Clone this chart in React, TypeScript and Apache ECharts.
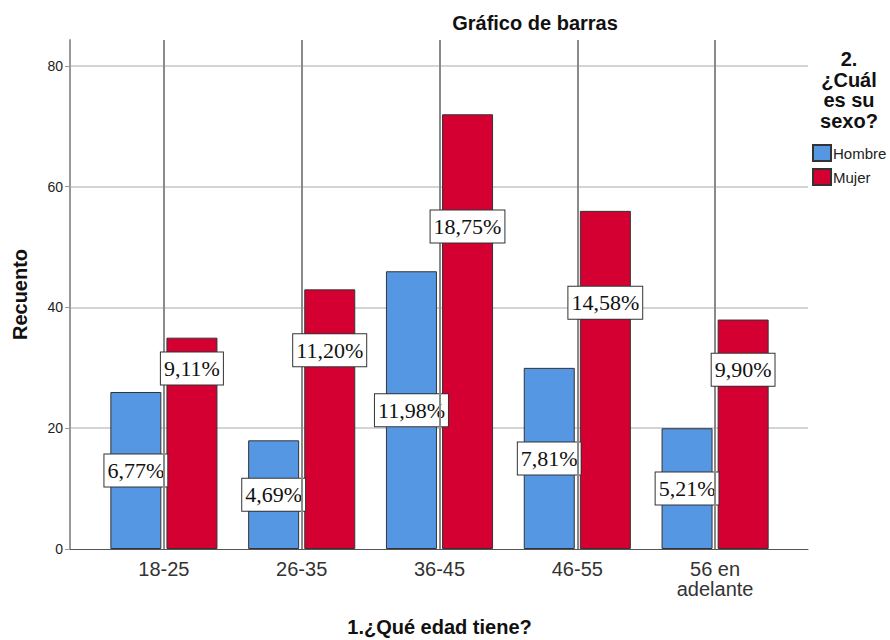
import React, { useEffect, useRef } from "react";
import * as echarts from "echarts";

const categories = ["18-25", "26-35", "36-45", "46-55", "56 en\nadelante"];
const hombre = [26, 18, 46, 30, 20];
const mujer = [35, 43, 72, 56, 38];
// where the Mujer percentage boxes sit (value units)
const mujerLabelAt = [29.9, 32.9, 53.4, 40.8, 29.7];
const yTicks = [0, 20, 40, 60, 80];

const total = [...hombre, ...mujer].reduce((a, b) => a + b, 0);
const pct = (v: number) => ((v / total) * 100).toFixed(2).replace(".", ",") + "%";

const labelBox = {
  fontFamily: "Liberation Serif, Times New Roman, serif",
  fontSize: 22,
  lineHeight: 25,
  color: "#111",
  backgroundColor: "#fff",
  borderColor: "#333",
  borderWidth: 1,
  padding: [4, 3, 3, 3],
};

export default function App() {
  const ref = useRef<HTMLDivElement>(null);
  useEffect(() => {
    if (!ref.current) return;
    const chart = echarts.init(ref.current, null, { renderer: "svg" });
    const sans = "Liberation Sans, Arial, sans-serif";
    chart.setOption({
      animation: false,
      backgroundColor: "#fff",
      textStyle: { fontFamily: sans },
      title: {
        text: "Gráfico de barras",
        left: 535,
        top: 13,
        textAlign: "center",
        padding: 0,
        textStyle: { fontSize: 20, fontWeight: "bold", color: "#111", fontFamily: sans },
      },
      graphic: [
        {
          type: "text",
          x: 849,
          y: 49,
          style: {
            text: "2.\n¿Cuál\nes su\nsexo?",
            font: "bold 20px Liberation Sans, Arial, sans-serif",
            lineHeight: 20.5,
            align: "center",
            verticalAlign: "top",
            fill: "#111",
          },
        },
      ],
      legend: {
        data: ["Hombre", "Mujer"],
        orient: "vertical",
        left: 812,
        top: 144,
        padding: 0,
        itemWidth: 18,
        itemHeight: 16,
        itemGap: 6,
        icon: "rect",
        textStyle: { fontSize: 15, color: "#222", fontFamily: sans, padding: [0, 0, 0, -3] },
      },
      grid: [
        { left: 70, right: 82, top: 40, bottom: 91, outerBoundsMode: "none", containLabel: false },
        { left: 95, right: 106, top: 40, bottom: 91, outerBoundsMode: "none", containLabel: false },
      ],
      xAxis: [
        {
          type: "value",
          gridIndex: 0,
          min: 0,
          max: 1,
          axisLine: { show: true, onZero: false, lineStyle: { color: "#555", width: 1 } },
          axisTick: { show: false },
          axisLabel: { show: false },
          splitLine: { show: false },
        },
        {
          type: "category",
          gridIndex: 1,
          data: categories,
          axisLine: { show: false },
          axisTick: { show: false },
          axisLabel: { fontSize: 20, color: "#333", lineHeight: 20, margin: 10 },
          name: "1.¿Qué edad tiene?",
          nameLocation: "middle",
          nameGap: 67,
          nameTextStyle: { fontSize: 20, lineHeight: 22, fontWeight: "bold", color: "#111" },
        },
      ],
      yAxis: [
        {
          type: "value",
          gridIndex: 0,
          min: 0,
          max: 84.3,
          interval: 20,
          axisLine: { show: true, lineStyle: { color: "#999", width: 2 } },
          axisTick: { show: true, length: 5, lineStyle: { color: "#999" } },
          axisLabel: {
            fontSize: 14,
            color: "#222",
            margin: 7,
            showMaxLabel: false,
            formatter: (v: number) => (yTicks.includes(v) ? String(v) : ""),
          },
          splitLine: { show: true, showMinLine: false, showMaxLine: false, lineStyle: { color: "#d4d4d4", width: 2 } },
          name: "Recuento",
          nameLocation: "middle",
          nameGap: 40,
          nameTextStyle: { fontSize: 20, fontWeight: "bold", color: "#111" },
        },
        {
          type: "value",
          gridIndex: 1,
          min: 0,
          max: 84.3,
          interval: 20,
          show: false,
          splitLine: { show: false },
        },
      ],
      series: [
        {
          name: "centerLines",
          type: "scatter",
          xAxisIndex: 1,
          yAxisIndex: 1,
          data: hombre,
          symbolSize: 0,
          silent: true,
          itemStyle: { color: "transparent", opacity: 1 },
          markLine: {
            silent: true,
            symbol: "none",
            label: { show: false },
            lineStyle: { color: "#8a8a8a", width: 2, type: "solid", opacity: 1 },
            data: categories.map((c) => ({ xAxis: c })),
          },
          z: 1,
        },
        {
          name: "Hombre",
          type: "bar",
          xAxisIndex: 1,
          yAxisIndex: 1,
          data: hombre,
          barWidth: 51,
          barGap: "10%",
          itemStyle: { color: "#5597E3", borderColor: "#333", borderWidth: 1 },
          label: { show: true, position: "inside", formatter: (p: any) => pct(p.value), ...labelBox },
          z: 2,
        },
        {
          name: "Mujer",
          type: "bar",
          xAxisIndex: 1,
          yAxisIndex: 1,
          data: mujer,
          barWidth: 51,
          barGap: "10%",
          itemStyle: { color: "#D40032", borderColor: "#333", borderWidth: 1 },
          z: 2,
        },
        {
          name: "MujerLabels",
          type: "scatter",
          xAxisIndex: 1,
          yAxisIndex: 1,
          data: mujerLabelAt,
          symbolSize: 1,
          silent: true,
          itemStyle: { color: "transparent", opacity: 1 },
          label: {
            show: true,
            position: "inside",
            offset: [28, 0],
            formatter: (p: any) => pct(mujer[p.dataIndex]),
            ...labelBox,
          },
          z: 5,
        },
      ],
    });
    return () => chart.dispose();
  }, []);
  return <div ref={ref} style={{ position: "absolute", left: 0, top: 0, width: 890, height: 640 }} />;
}
